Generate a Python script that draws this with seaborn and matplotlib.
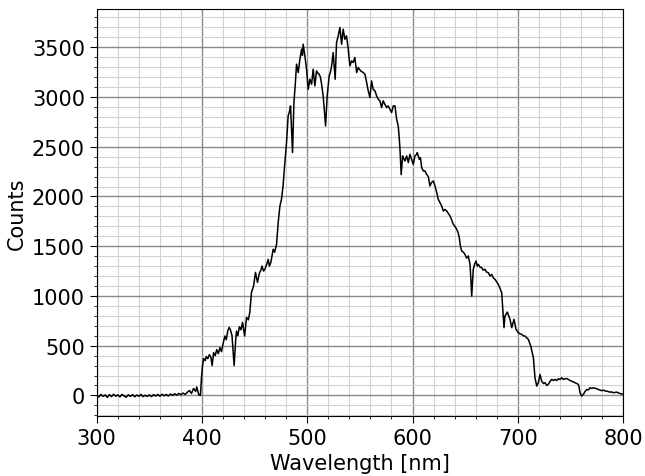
import numpy as np
import pandas as pd
import matplotlib
matplotlib.use("Agg")
import matplotlib.pyplot as plt
from matplotlib.ticker import MultipleLocator
import seaborn as sns

# spectrum
wavelength_base = [300, 302, 304, 306, 308, 310, 312, 314, 316, 318, 320, 322, 324, 326, 328,
                   330, 332, 334, 336, 338, 340, 342, 344, 346, 348, 350, 352, 354, 356, 358,
                   360, 362, 364, 366, 368, 370, 372, 374, 376, 378, 380, 382, 384, 386, 388,
                   390, 392, 394, 395, 397, 398.5]
counts_base = [0, -15, 10, -10, 5, -20, 8, -12, 12, -8, 5, -15, 10, -5, -18,
               6, -10, 8, -14, 4, -8, 10, -12, 2, -10, 6, -12, 8, -6, 10,
               -8, 12, -4, 10, -6, 14, 0, 16, 4, 20, 6, 24, 10, 30, 50,
               20, 70, 40, 85, 5, 0]

wavelength_rise = [399.5, 400.5, 401.5, 403, 404, 405.5, 407, 408.5, 409.6, 411, 412.5, 414,
                   415.5, 417, 418.5, 420, 421.7, 423, 424.5, 425.8, 427, 428.5, 430.5, 432,
                   432.8, 434, 435.5, 437, 438.5, 440.5, 442.3, 444, 445.4, 447, 449, 450.8,
                   452.7, 454.5, 456, 457, 458.5, 459.7, 461.5, 462.9, 464, 465.4, 467.6, 469,
                   470.8, 472.4, 474, 475.5, 477, 478.7, 480.3, 481.8, 483, 484.1, 485, 486,
                   487.3, 488.5, 489.8, 491.4, 493, 494.6, 495.4, 496.1, 497.7, 499.3]
counts_rise = [180, 300, 370, 350, 390, 370, 410, 380, 300, 430, 400, 460,
               420, 480, 440, 520, 597, 560, 650, 684, 660, 600, 300, 560,
               647, 600, 690, 660, 734, 597, 785, 760, 835, 1036, 1100, 1237,
               1137, 1230, 1260, 1300, 1250, 1267, 1320, 1368, 1300, 1338, 1469, 1440,
               1519, 1740, 1904, 1972, 2106, 2341, 2542, 2810, 2850, 2911, 2700, 2442,
               2944, 3112, 3330, 3246, 3380, 3481, 3420, 3531, 3414, 3280]

wavelength_peak = [500.9, 502.5, 504.1, 505.6, 507.2, 508.8, 510, 511.3, 512.5, 513.6, 515.1,
                   516.3, 517.4, 518.9, 520.8, 522, 523.1, 524.6, 526.5, 527.8, 529.4, 531,
                   532.6, 534.1, 535.7, 537.3, 538.9, 540.5, 542.1, 543.6, 545.2, 546.9,
                   548.4, 550.7, 553.2, 554.8, 556.4, 557.9, 559.5, 561.1, 562.6, 564.3,
                   565.9, 567.4, 569, 570.6, 572.1, 573.8, 575.4, 576.9, 578.5, 580.1,
                   581.7, 583.3, 584.9, 586.4, 587.3, 588.2, 589.2]
counts_peak = [3078, 3179, 3129, 3280, 3112, 3263, 3240, 3229, 3200, 3129, 3011,
               2850, 2709, 3011, 3212, 3250, 3313, 3447, 3179, 3548, 3615, 3699,
               3531, 3682, 3581, 3615, 3481, 3313, 3363, 3347, 3397, 3246,
               3297, 3263, 3246, 3229, 3146, 3062, 2995, 3162, 3078, 3062,
               3011, 2978, 2961, 2894, 2961, 2927, 2894, 2911, 2877, 2844,
               2911, 2911, 2777, 2709, 2600, 2450, 2220]

wavelength_fall = [590.6, 591.2, 592.8, 594.4, 596, 597.5, 599.1, 600.7, 602.3, 603.9, 604.5,
                   606.4, 607.5, 608.7, 610.2, 611.8, 613.4, 615, 616.5, 618, 619.7, 621.3,
                   623, 624.4, 626, 627.7, 629.2, 630.8, 632.4, 634, 635.6, 637, 638.7,
                   640.3, 641.9, 643.2, 644.4, 645.5, 646.7, 648.3, 649.8, 651.4, 653,
                   654.6, 655.5, 656.2, 657, 657.7, 659, 660.3, 661.5, 662.5, 664, 665.7,
                   667, 668.8, 670.4, 672, 673.6, 675.2, 676.8, 678.3, 680, 681.5, 683,
                   684.7, 685.5, 686.9, 687.8, 690, 691.3, 692.6, 694.2, 696.4, 698.3]
counts_fall = [2408, 2391, 2357, 2408, 2341, 2424, 2374, 2324, 2408, 2424, 2442,
               2374, 2390, 2290, 2257, 2257, 2223, 2200, 2106, 2140, 2156, 2106,
               2040, 1972, 1940, 1904, 1854, 1870, 1854, 1830, 1804, 1770, 1720,
               1700, 1670, 1640, 1586, 1500, 1452, 1440, 1418, 1380, 1402,
               1318, 1150, 999, 1150, 1268, 1320, 1351, 1300, 1318, 1290, 1285,
               1260, 1268, 1240, 1234, 1200, 1217, 1180, 1167, 1140, 1117, 1080,
               1033, 900, 681, 798, 838, 800, 765, 681, 765, 664]

wavelength_tail = [700.5, 702, 703.7, 705.2, 706.8, 708.4, 710, 712.3, 714.8, 716.3, 718,
                   719.5, 721.1, 722.7, 724.3, 725.9, 727.5, 729, 730.6, 732.2, 733.8,
                   735.4, 737, 738.5, 740, 741.7, 743.3, 744.9, 746.5, 748, 749.6, 751.2,
                   752.8, 754.4, 756, 757.5, 758.3, 759.1, 760.7, 762.3, 763.9, 765.5, 767,
                   768.6, 770.2, 771.8, 773.4, 775, 776.5, 778.1, 779.7, 781.3, 782.9,
                   784.5, 786, 787.6, 789.2, 790.8, 792.4, 794, 795.5, 797.1, 798.5, 800]
counts_tail = [631, 620, 614, 600, 597, 580, 563, 496, 379, 178, 94,
               128, 211, 144, 120, 128, 100, 111, 140, 161, 150,
               161, 150, 168, 160, 178, 160, 168, 170, 161, 150, 144,
               135, 128, 120, 111, 80, 27, -7, 10, 40, 60, 55,
               77, 70, 77, 72, 67, 60, 53, 48, 53, 45,
               43, 38, 33, 35, 27, 30, 33, 25, 20, 15, 10]

spec = pd.DataFrame({
    "wl": wavelength_base + wavelength_rise + wavelength_peak + wavelength_fall + wavelength_tail,
    "counts": counts_base + counts_rise + counts_peak + counts_fall + counts_tail,
})

sns.set_style("ticks", {"text.color": "black", "axes.labelcolor": "black",
                        "xtick.color": "black", "ytick.color": "black",
                        "axes.edgecolor": "black"})
plt.rcParams["font.family"] = ["DejaVu Sans"]

fig, ax = plt.subplots(figsize=(6.45, 4.77), dpi=100)
fig.subplots_adjust(left=0.150, right=0.966, top=0.979, bottom=0.126)

sns.lineplot(data=spec, x="wl", y="counts", color="black", linewidth=1.1,
             estimator=None, ax=ax)

ax.set_xlim(300, 800)
ax.xaxis.set_major_locator(MultipleLocator(100))
ax.xaxis.set_minor_locator(MultipleLocator(20))
ax.yaxis.set_major_locator(MultipleLocator(500))
ax.yaxis.set_minor_locator(MultipleLocator(100))
ax.grid(which="major", color="#8a8a8a", linewidth=1.0)
ax.grid(which="minor", color="#d2d2d2", linewidth=0.8)
ax.set_axisbelow(True)
for s in ax.spines.values():
    s.set_visible(True)
    s.set_color("black")
ax.tick_params(axis="both", which="major", labelsize=15, length=5, color="black",
               labelcolor="black")
ax.tick_params(axis="both", which="minor", length=2.5, color="black")
ax.set_xlabel("Wavelength [nm]", fontsize=15, color="black")
ax.set_ylabel("Counts", fontsize=15, color="black")

fig.savefig("out.png", dpi=100)
